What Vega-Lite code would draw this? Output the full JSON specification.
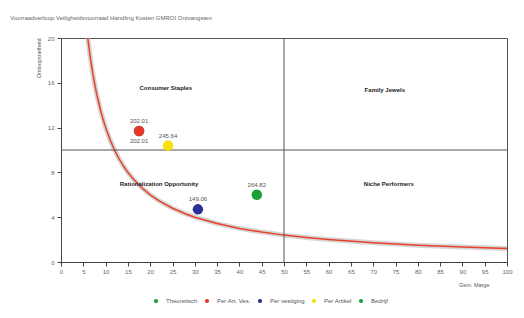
{
  "$schema": "https://vega.github.io/schema/vega-lite/v6.json",
  "width": 446,
  "height": 224,
  "padding": {"left": 10, "top": 15, "right": 16, "bottom": 4},
  "background": "white",
  "title": {"text": "Voorraadverloop   Veiligheidsvoorraad   Handling Kosten   GMROI   Ontvangsten", "anchor": "start", "frame": "bounds", "dx": -26, "fontSize": 6, "fontWeight": "normal", "color": "#666", "font": "Liberation Sans", "offset": 14},
  "config": {
    "font": "Liberation Sans",
    "view": {"stroke": "#555", "strokeWidth": 1},
    "axis": {"labelFontSize": 6, "labelColor": "#666", "titleFontSize": 5.5, "titleColor": "#555", "titleFontWeight": "normal", "domainColor": "#444", "tickColor": "#444", "grid": false, "labelOverlap": false, "labelSeparation": 0}
  },
  "datasets": {
    "curve": [
      {"x": 6, "y": 20}, {"x": 6.5, "y": 18.46}, {"x": 7, "y": 17.14}, {"x": 7.5, "y": 16}, {"x": 8, "y": 15},
      {"x": 9, "y": 13.33}, {"x": 10, "y": 12}, {"x": 11, "y": 10.91}, {"x": 12, "y": 10}, {"x": 13, "y": 9.23},
      {"x": 14, "y": 8.57}, {"x": 15, "y": 8}, {"x": 16, "y": 7.5}, {"x": 18, "y": 6.67}, {"x": 20, "y": 6},
      {"x": 22, "y": 5.45}, {"x": 25, "y": 4.8}, {"x": 28, "y": 4.29}, {"x": 30, "y": 4}, {"x": 35, "y": 3.43},
      {"x": 40, "y": 3}, {"x": 45, "y": 2.67}, {"x": 50, "y": 2.4}, {"x": 55, "y": 2.18}, {"x": 60, "y": 2},
      {"x": 70, "y": 1.71}, {"x": 80, "y": 1.5}, {"x": 90, "y": 1.33}, {"x": 100, "y": 1.2}
    ],
    "points": [
      {"serie": "Theoretisch", "x": 17.5, "y": 11.7, "label": "202.01", "pos": "below"},
      {"serie": "Per Art. Ves.", "x": 17.5, "y": 11.7, "label": "202.01", "pos": "above"},
      {"serie": "Per vestiging", "x": 30.7, "y": 4.7, "label": "149.06", "pos": "above"},
      {"serie": "Per Artikel", "x": 24, "y": 10.4, "label": "245.64", "pos": "above"},
      {"serie": "Bedrijf", "x": 43.9, "y": 6.0, "label": "264.82", "pos": "above"}
    ],
    "quadrants": [
      {"x": 23.5, "y": 15.5, "label": "Consumer Staples"},
      {"x": 72.6, "y": 15.4, "label": "Family Jewels"},
      {"x": 22, "y": 7.0, "label": "Rationalization Opportunity"},
      {"x": 73.5, "y": 7.0, "label": "Niche Performers"}
    ],
    "minor": [
      {"x": 0}, {"x": 1}, {"x": 2}, {"x": 3}, {"x": 4}, {"x": 5}, {"x": 6}, {"x": 7}, {"x": 8}, {"x": 9},
      {"x": 10}, {"x": 11}, {"x": 12}, {"x": 13}, {"x": 14}, {"x": 15}, {"x": 16}, {"x": 17}, {"x": 18}, {"x": 19},
      {"x": 20}, {"x": 21}, {"x": 22}, {"x": 23}, {"x": 24}, {"x": 25}, {"x": 26}, {"x": 27}, {"x": 28}, {"x": 29},
      {"x": 30}, {"x": 31}, {"x": 32}, {"x": 33}, {"x": 34}, {"x": 35}, {"x": 36}, {"x": 37}, {"x": 38}, {"x": 39},
      {"x": 40}, {"x": 41}, {"x": 42}, {"x": 43}, {"x": 44}, {"x": 45}, {"x": 46}, {"x": 47}, {"x": 48}, {"x": 49},
      {"x": 50}, {"x": 51}, {"x": 52}, {"x": 53}, {"x": 54}, {"x": 55}, {"x": 56}, {"x": 57}, {"x": 58}, {"x": 59},
      {"x": 60}, {"x": 61}, {"x": 62}, {"x": 63}, {"x": 64}, {"x": 65}, {"x": 66}, {"x": 67}, {"x": 68}, {"x": 69},
      {"x": 70}, {"x": 71}, {"x": 72}, {"x": 73}, {"x": 74}, {"x": 75}, {"x": 76}, {"x": 77}, {"x": 78}, {"x": 79},
      {"x": 80}, {"x": 81}, {"x": 82}, {"x": 83}, {"x": 84}, {"x": 85}, {"x": 86}, {"x": 87}, {"x": 88}, {"x": 89},
      {"x": 90}, {"x": 91}, {"x": 92}, {"x": 93}, {"x": 94}, {"x": 95}, {"x": 96}, {"x": 97}, {"x": 98}, {"x": 99},
      {"x": 100}
    ],
    "vlines": [{"x": 50, "y": 0, "y2": 20}],
    "hlines": [{"x": 0, "x2": 100, "y": 10}]
  },
  "encoding": {
    "x": {"field": "x", "type": "quantitative", "scale": {"domain": [0, 100], "nice": false},
      "axis": {"values": [0,5,10,15,20,25,30,35,40,45,50,55,60,65,70,75,80,85,90,95,100],
        "tickSize": 4, "labelPadding": 2, "title": "Gem. Marge", "titleAlign": "right", "titleX": 428, "titleY": 20, "labelFlush": false, "labelOverlap": false}},
    "y": {"field": "y", "type": "quantitative", "scale": {"domain": [0, 20], "nice": false},
      "axis": {"values": [0, 4, 8, 12, 16, 20], "tickSize": 4, "labelPadding": 3, "title": "Omloopsnelheid", "titleAnchor": "end", "titlePadding": 6}}
  },
  "layer": [
    {
      "data": {"name": "curve"},
      "mark": {"type": "line", "color": "#bbb", "strokeWidth": 5, "opacity": 0.6, "clip": true}
    },
    {
      "data": {"name": "curve"},
      "mark": {"type": "line", "color": "#e8402a", "strokeWidth": 1.5, "clip": true}
    },
    {
      "data": {"name": "minor"},
      "mark": {"type": "tick", "orient": "vertical", "color": "#555", "size": 3, "thickness": 0.7, "yOffset": 2},
      "encoding": {"y": {"datum": 0, "type": "quantitative"}}
    },
    {
      "data": {"name": "vlines"},
      "mark": {"type": "rule", "color": "#555", "strokeWidth": 1},
      "encoding": {"y2": {"field": "y2"}}
    },
    {
      "data": {"name": "hlines"},
      "mark": {"type": "rule", "color": "#555", "strokeWidth": 1},
      "encoding": {"x2": {"field": "x2"}}
    },
    {
      "data": {"name": "points"},
      "mark": {"type": "circle", "size": 110, "opacity": 1},
      "encoding": {
        "color": {"field": "serie", "type": "nominal",
          "scale": {"domain": ["Theoretisch", "Per Art. Ves.", "Per vestiging", "Per Artikel", "Bedrijf"], "range": ["#1aa038", "#e8362a", "#2a2f9a", "#f5e20a", "#1aa038"]},
          "legend": {"orient": "none", "legendX": 92, "legendY": 260, "direction": "horizontal", "title": null, "symbolType": "circle", "symbolSize": 18, "labelFontSize": 6, "labelColor": "#555", "columnPadding": 6, "labelOffset": 7}}
      }
    },
    {
      "data": {"name": "points"},
      "transform": [{"filter": "datum.pos == 'above'"}],
      "mark": {"type": "text", "fontSize": 6, "color": "#555", "dy": -10},
      "encoding": {"text": {"field": "label"}}
    },
    {
      "data": {"name": "points"},
      "transform": [{"filter": "datum.pos == 'below'"}],
      "mark": {"type": "text", "fontSize": 6, "color": "#555", "dy": 10},
      "encoding": {"text": {"field": "label"}}
    },
    {
      "data": {"name": "quadrants"},
      "mark": {"type": "text", "fontSize": 6, "fontWeight": "bold", "color": "#222"},
      "encoding": {"text": {"field": "label"}}
    }
  ]
}
